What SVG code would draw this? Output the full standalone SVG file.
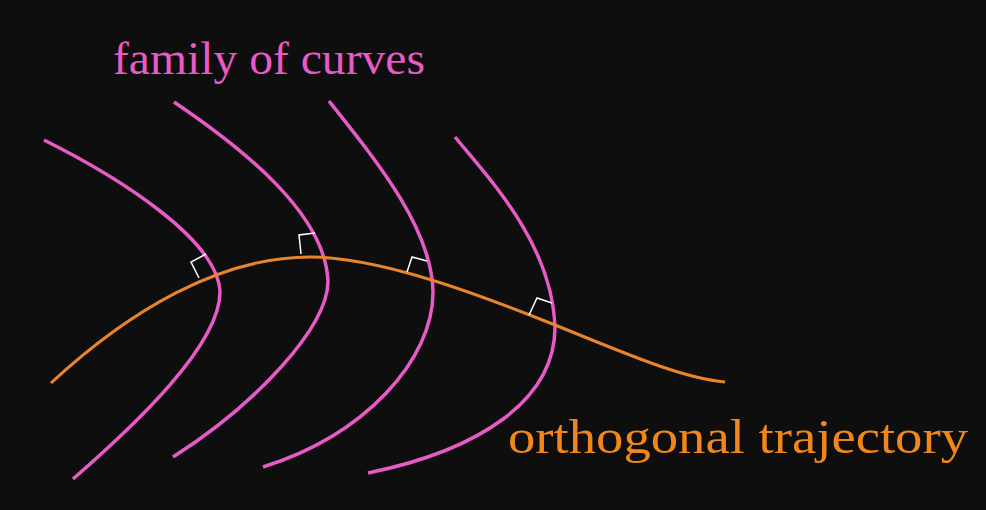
<svg xmlns="http://www.w3.org/2000/svg" width="986" height="510" viewBox="0 0 986 510">
<style>
.bg{fill:#0e0e0e}
.curve{fill:none;stroke:#e85ac6;stroke-width:3.5;stroke-linecap:butt}
.traj{fill:none;stroke:#e8842e;stroke-width:3}
.ra{fill:none;stroke:#ffffff;stroke-width:1.5}
.lbl{font-family:"Liberation Serif","DejaVu Serif",serif}
</style>
<rect class="bg" x="0" y="0" width="986" height="510"/>
<g id="family">
<path id="curve1" class="curve" d="M44,140 C120,178 218,240 220,292 C220,345 135,425 73,479"/>
<path id="curve2" class="curve" d="M174,102 C245,150 326,215 328,282 C327,328 255,405 173,457"/>
<path id="curve3" class="curve" d="M329,101 C380,165 432,230 433,292 C433,360 365,435 263,467"/>
<path id="curve4" class="curve" d="M455,137 C492,182 552,245 555,327 C555,400 480,450 368,473"/>
</g>
<g id="trajectory">
<path class="traj" d="M51,383 C130,310 220,257 310,257 C380,257 480,295 550,323 C620,351 680,378 725,382"/>
</g>
<g id="right-angles">
<polyline class="ra" points="199,278 191,262 206,254"/>
<polyline class="ra" points="301,254 299,235 315,233"/>
<polyline class="ra" points="407,272 412,257 427,261"/>
<polyline class="ra" points="529,315 537,298 552,303"/>
</g>
<text id="label-family" class="lbl" x="113" y="74" font-size="46" fill="#e85ac6" textLength="312" lengthAdjust="spacingAndGlyphs">family of curves</text>
<text id="label-traj" class="lbl" x="508" y="453" font-size="49" fill="#f0861c" textLength="460" lengthAdjust="spacingAndGlyphs">orthogonal trajectory</text>
</svg>
